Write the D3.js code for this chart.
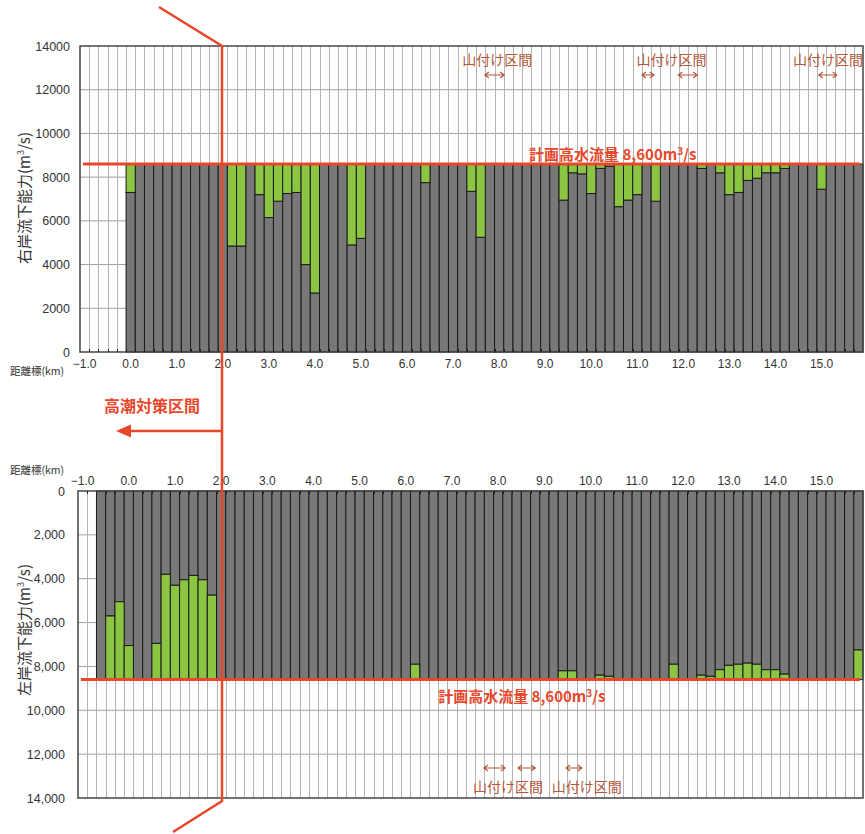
<!DOCTYPE html>
<html>
<head>
<meta charset="utf-8">
<script src="https://cdn.jsdelivr.net/npm/d3@7"></script>
<style>
  body { margin: 0; background: #fff; }
  svg { display: block; font-family: "Noto Sans CJK JP", "Noto Sans", sans-serif; }
</style>
</head>
<body>
<script>
// 計画高水流量 (m3/s)
const PLAN_FLOW = 8600

// 距離標 (km), one category every 0.2 km
const distanceKm = [
    -1.0, -0.8, -0.6, -0.4, -0.2,
    0.0, 0.2, 0.4, 0.6, 0.8, 1.0, 1.2, 1.4, 1.6, 1.8,
    2.0, 2.2, 2.4, 2.6, 2.8, 3.0, 3.2, 3.4, 3.6, 3.8,
    4.0, 4.2, 4.4, 4.6, 4.8, 5.0, 5.2, 5.4, 5.6, 5.8,
    6.0, 6.2, 6.4, 6.6, 6.8, 7.0, 7.2, 7.4, 7.6, 7.8,
    8.0, 8.2, 8.4, 8.6, 8.8, 9.0, 9.2, 9.4, 9.6, 9.8,
    10.0, 10.2, 10.4, 10.6, 10.8, 11.0, 11.2, 11.4, 11.6, 11.8,
    12.0, 12.2, 12.4, 12.6, 12.8, 13.0, 13.2, 13.4, 13.6, 13.8,
    14.0, 14.2, 14.4, 14.6, 14.8, 15.0, 15.2, 15.4, 15.6, 15.8
]

// 右岸流下能力 (capped at the plan flow), null = no section
const rightBank = [
    null, null, null, null, null,
    7300, 8600, 8600, 8600, 8600, 8600, 8600, 8600, 8600, 8600,
    8600, 4850, 4850, 8600, 7200, 6150, 6900, 7250, 7300, 4000,
    2700, 8600, 8600, 8600, 4900, 5200, 8600, 8600, 8600, 8600,
    8600, 8600, 7750, 8600, 8600, 8600, 8600, 7350, 5250, 8600,
    8600, 8600, 8600, 8600, 8600, 8600, 8600, 6950, 8200, 8150,
    7250, 8400, 8500, 6650, 6950, 7200, 8600, 6900, 8600, 8600,
    8600, 8600, 8400, 8600, 8200, 7200, 7300, 7850, 7950, 8200,
    8200, 8400, 8600, 8600, 8600, 7450, 8600, 8600, 8600, 8600
]

// 左岸流下能力 (capped at the plan flow), null = no section
const leftBank = [
    null, null, 8600, 5700, 5050,
    7050, 8600, 8600, 6950, 3800, 4300, 4050, 3850, 4050, 4750,
    8600, 8600, 8600, 8600, 8600, 8600, 8600, 8600, 8600, 8600,
    8600, 8600, 8600, 8600, 8600, 8600, 8600, 8600, 8600, 8600,
    8600, 7900, 8600, 8600, 8600, 8600, 8600, 8600, 8600, 8600,
    8600, 8600, 8600, 8600, 8600, 8600, 8600, 8200, 8200, 8600,
    8600, 8400, 8450, 8600, 8600, 8600, 8600, 8600, 8600, 7900,
    8600, 8600, 8400, 8450, 8150, 7950, 7900, 7850, 7900, 8150,
    8150, 8350, 8600, 8600, 8600, 8600, 8600, 8600, 8600, 7250
]

const kmTicks = [-1, 0, 1, 2, 3, 4, 5, 6, 7, 8, 9, 10, 11, 12, 13, 14, 15]
const flowTicks = [0, 2000, 4000, 6000, 8000, 10000, 12000, 14000]

// 山付け区間 annotations: text position and arrow spans (km)
const yamatsukeTop = [
    { km: 7.96, arrows: [[7.69, 8.11]] },
    { km: 11.74, arrows: [[11.1, 11.36], [11.89, 12.3]] },
    { km: 15.14, arrows: [[14.94, 15.33]] }
]
const yamatsukeBottom = [
    { km: 8.21, arrows: [[7.69, 8.15], [8.43, 8.8]] },
    { km: 9.92, arrows: [[9.47, 9.81]] }
]

const RED = '#e9472b'
const GRAY = '#787878'
const GREEN = '#8cc542'
const NOTE = '#b4573a'

const svg = d3.select('body').append('svg')
    .attr('width', 865)
    .attr('height', 834)

const fmtKm = d3.format('.1f')

function drawPanel(cfg) {
    const { x0, x1, yZero, yMax, data, inverted } = cfg
    const g = svg.append('g')

    const x = d3.scaleBand().domain(distanceKm).range([x0, x1]).padding(0)
    // continuous km position (category centre at its km value)
    const xKm = d3.scaleLinear().domain([-1.1, 15.9]).range([x0, x1])
    const y = d3.scaleLinear().domain([0, 14000]).range([yZero, yMax])
    const top = Math.min(yZero, yMax)
    const bottom = Math.max(yZero, yMax)

    // horizontal gridlines
    g.append('g').selectAll('line')
        .data(flowTicks.slice(1, -1))
        .join('line')
        .attr('x1', x0).attr('x2', x1)
        .attr('y1', (d) => y(d)).attr('y2', (d) => y(d))
        .attr('stroke', '#a0a0a0')
        .attr('stroke-width', 1)

    // vertical gridlines at category boundaries
    g.append('g').selectAll('line')
        .data(distanceKm.slice(1))
        .join('line')
        .attr('x1', (d) => Math.round(x(d)) + 0.5)
        .attr('x2', (d) => Math.round(x(d)) + 0.5)
        .attr('y1', top).attr('y2', bottom)
        .attr('stroke', '#b4b4b4')
        .attr('stroke-width', 1)

    const rows = distanceKm
        .map((km, i) => ({ km, value: data[i] }))
        .filter((d) => d.value !== null)

    // gray: capacity, green: shortfall up to the plan flow
    const bars = g.append('g')
    bars.selectAll('rect.cap')
        .data(rows)
        .join('rect')
        .attr('class', 'cap')
        .attr('x', (d) => x(d.km))
        .attr('width', x.bandwidth())
        .attr('y', (d) => Math.min(y(0), y(d.value)))
        .attr('height', (d) => Math.abs(y(d.value) - y(0)))
        .attr('fill', GRAY)
        .attr('stroke', '#1a1a1a')
        .attr('stroke-width', 1)

    bars.selectAll('rect.gap')
        .data(rows.filter((d) => d.value < PLAN_FLOW))
        .join('rect')
        .attr('class', 'gap')
        .attr('x', (d) => x(d.km))
        .attr('width', x.bandwidth())
        .attr('y', (d) => Math.min(y(d.value), y(PLAN_FLOW)))
        .attr('height', (d) => Math.abs(y(PLAN_FLOW) - y(d.value)))
        .attr('fill', GREEN)
        .attr('stroke', '#1a1a1a')
        .attr('stroke-width', 1)

    // frame
    g.append('rect')
        .attr('x', x0).attr('y', top)
        .attr('width', x1 - x0).attr('height', bottom - top)
        .attr('fill', 'none')
        .attr('stroke', '#444')
        .attr('stroke-width', 1.5)

    // small category ticks on the distance axis
    const dir = inverted ? 1 : -1
    g.append('g').selectAll('line')
        .data(distanceKm.slice(1))
        .join('line')
        .attr('x1', (d) => Math.round(x(d)) + 0.5)
        .attr('x2', (d) => Math.round(x(d)) + 0.5)
        .attr('y1', yZero).attr('y2', yZero + dir * 3)
        .attr('stroke', '#222')

    // axes
    const xAxis = (inverted ? d3.axisTop(x) : d3.axisBottom(x))
        .tickValues(kmTicks)
        .tickFormat((d) => fmtKm(d))
        .tickSize(0)
        .tickPadding(inverted ? 6 : 7)
    g.append('g')
        .attr('transform', `translate(0,${yZero})`)
        .call(xAxis)
        .call((s) => s.select('.domain').remove())
        .selectAll('text')
        .attr('font-size', 12)
        .attr('fill', '#333')

    const yAxis = d3.axisLeft(y)
        .tickValues(flowTicks)
        .tickFormat(inverted ? d3.format(',') : d3.format('d'))
        .tickSize(0)
        .tickPadding(inverted ? 13 : 10)
    g.append('g')
        .attr('transform', `translate(${x0},0)`)
        .call(yAxis)
        .call((s) => s.select('.domain').remove())
        .selectAll('text')
        .attr('font-size', 12.5)
        .attr('fill', '#333')

    // axis title
    const title = g.append('text')
        .attr('transform', `translate(30,${cfg.titleY}) rotate(-90)`)
        .attr('text-anchor', 'middle')
        .attr('font-size', 15)
        .attr('fill', '#333')
        .text(cfg.title)
    title.append('tspan').text('3').attr('font-size', 9).attr('dy', -6)
    title.append('tspan').text('/s)').attr('dy', 6)

    g.append('text')
        .attr('x', 10).attr('y', cfg.kmLabelY)
        .attr('font-size', 10.5)
        .attr('fill', '#333')
        .text('距離標(km)')

    // plan flow line and label
    g.append('line')
        .attr('x1', x0 + 3).attr('x2', x1 - 3)
        .attr('y1', y(PLAN_FLOW)).attr('y2', y(PLAN_FLOW))
        .attr('stroke', RED)
        .attr('stroke-width', 3)

    const plan = g.append('text')
        .attr('x', xKm(cfg.planKm))
        .attr('y', cfg.planY)
        .attr('font-size', 15)
        .attr('font-weight', 'bold')
        .attr('fill', RED)
        .text('計画高水流量 8,600m')
    plan.append('tspan').text('3').attr('font-size', 10).attr('dy', -5)
    plan.append('tspan').text('/s').attr('dy', 5)

    // 山付け区間
    const notes = g.append('g')
    cfg.notes.forEach((n) => {
        notes.append('text')
            .attr('x', xKm(n.km))
            .attr('y', cfg.noteY)
            .attr('text-anchor', 'middle')
            .attr('font-size', 14)
            .attr('fill', NOTE)
            .text('山付け区間')
        n.arrows.forEach(([a, b]) => {
            const xa = xKm(a), xb = xKm(b), ya = cfg.arrowY
            notes.append('path')
                .attr('d', `M${xa},${ya}H${xb}M${xa + 4},${ya - 3}L${xa},${ya}L${xa + 4},${ya + 3}M${xb - 4},${ya - 3}L${xb},${ya}L${xb - 4},${ya + 3}`)
                .attr('fill', 'none')
                .attr('stroke', NOTE)
                .attr('stroke-width', 1.2)
        })
    })
}

drawPanel({
    x0: 80, x1: 863, yZero: 352, yMax: 46,
    data: rightBank, inverted: false,
    title: '右岸流下能力(m', titleY: 198,
    kmLabelY: 375,
    planKm: 8.65, planY: 160,
    notes: yamatsukeTop, noteY: 65, arrowY: 75
})

drawPanel({
    x0: 78, x1: 863, yZero: 491, yMax: 798,
    data: leftBank, inverted: true,
    title: '左岸流下能力(m', titleY: 630,
    kmLabelY: 474,
    planKm: 6.7, planY: 702,
    notes: yamatsukeBottom, noteY: 792, arrowY: 768
})

// 高潮対策区間 overlay
const overlay = svg.append('g')
overlay.append('path')
    .attr('d', 'M159,7L222,46V801L173,832')
    .attr('fill', 'none')
    .attr('stroke', RED)
    .attr('stroke-width', 2.5)
overlay.append('line')
    .attr('x1', 222).attr('x2', 128)
    .attr('y1', 431).attr('y2', 431)
    .attr('stroke', RED)
    .attr('stroke-width', 2.5)
overlay.append('path')
    .attr('d', 'M116,431L131,424.5L131,437.5Z')
    .attr('fill', RED)
overlay.append('text')
    .attr('x', 104).attr('y', 412)
    .attr('font-size', 16)
    .attr('font-weight', 'bold')
    .attr('fill', RED)
    .text('高潮対策区間')
</script>
</body>
</html>
